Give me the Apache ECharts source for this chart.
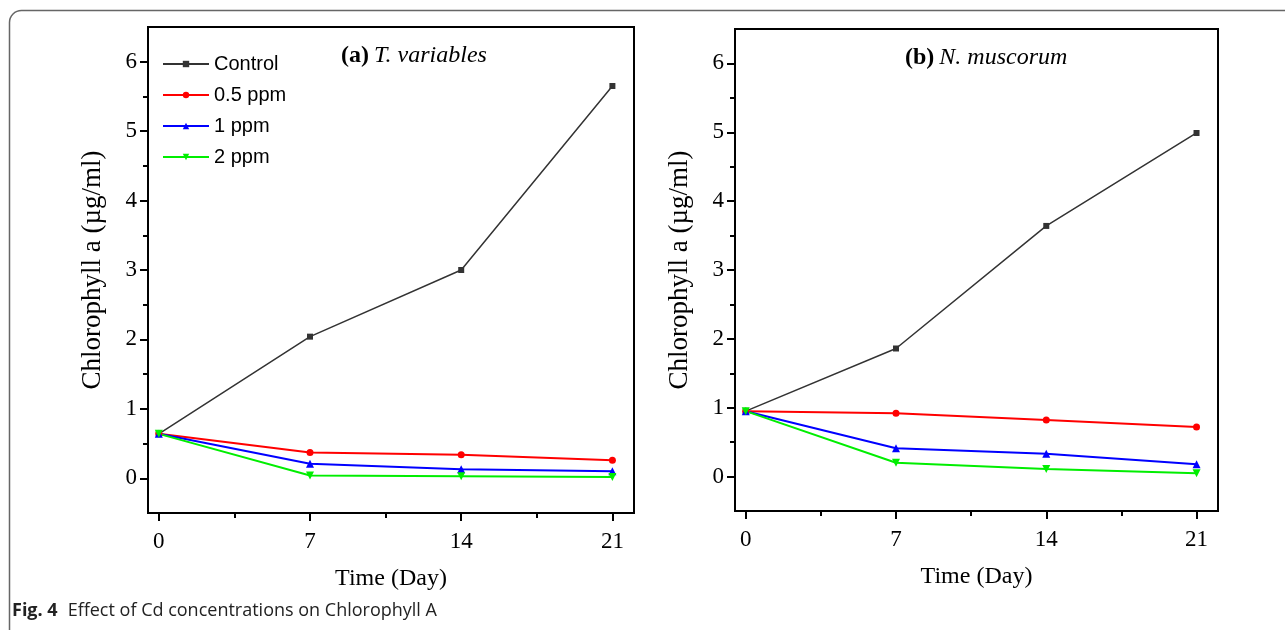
<!DOCTYPE html>
<html>
<head>
<meta charset="utf-8">
<script src="https://cdn.jsdelivr.net/npm/echarts@6/dist/echarts.min.js"></script>
<style>
html,body{margin:0;padding:0;background:#fff;}
#c{width:1285px;height:630px;}
</style>
</head>
<body>
<div id="c"></div>
<script>
// ---- data ----
var days = [0, 7, 14, 21];
var seriesNames = ['Control', '0.5 ppm', '1 ppm', '2 ppm'];
// Panel (a) T. variables
var aControl = [0.64, 2.04, 3.00, 5.65];
var aPpm05 = [0.64, 0.37, 0.34, 0.26];
var aPpm1 = [0.64, 0.21, 0.13, 0.10];
var aPpm2 = [0.64, 0.04, 0.03, 0.02];
// Panel (b) N. muscorum
var bControl = [0.95, 1.86, 3.64, 4.99];
var bPpm05 = [0.95, 0.92, 0.82, 0.72];
var bPpm1 = [0.95, 0.41, 0.33, 0.18];
var bPpm2 = [0.95, 0.20, 0.11, 0.05];
var xMajor = [0, 7, 14, 21];
var xMinor = [3.5, 10.5, 17.5];
var yMajor = [0, 1, 2, 3, 4, 5, 6];
var yMinor = [0.5, 1.5, 2.5, 3.5, 4.5, 5.5];

var colors = ['#333333', '#ff0000', '#0000ff', '#00ee00'];
var symbols = ['rect', 'circle', 'triangle', 'triangle'];
var rot = [0, 0, 0, 180];
var sizes = [6, 7, 8, 8];

function pairs(vals){ return days.map(function(d,i){ return [d, vals[i]]; }); }

var serif = 'Liberation Serif';

function xAxes(gi){
  return [
    {type:'value', gridIndex:gi, position:'bottom', min:-0.5, max:22,
     axisLine:{show:true, onZero:false, lineStyle:{color:'#000', width:2}},
     axisTick:{show:true, inside:false, length:8, customValues:xMajor, lineStyle:{color:'#000', width:2}},
     axisLabel:{show:true, customValues:xMajor, margin:17, color:'#000', fontFamily:serif, fontSize:23},
     splitLine:{show:false},
     name:'Time (Day)', nameLocation:'middle', nameGap:54,
     nameTextStyle:{fontFamily:serif, fontSize:24, color:'#000'}},
    {type:'value', gridIndex:gi, position:'bottom', min:-0.5, max:22,
     axisLine:{show:false, onZero:false},
     axisTick:{show:true, length:5, customValues:xMinor, lineStyle:{color:'#000', width:2}},
     axisLabel:{show:false}, splitLine:{show:false}}
  ];
}
function yAxes(gi){
  return [
    {type:'value', gridIndex:gi, position:'left', min:-0.5, max:6.5,
     axisLine:{show:true, onZero:false, lineStyle:{color:'#000', width:2}},
     axisTick:{show:true, length:8, customValues:yMajor, lineStyle:{color:'#000', width:2}},
     axisLabel:{show:true, customValues:yMajor, margin:11, color:'#000', fontFamily:serif, fontSize:23},
     splitLine:{show:false},
     name:'Chlorophyll a (µg/ml)', nameLocation:'middle', nameGap:42,
     nameTextStyle:{fontFamily:serif, fontSize:27, color:'#000'}},
    {type:'value', gridIndex:gi, position:'left', min:-0.5, max:6.5,
     axisLine:{show:false, onZero:false},
     axisTick:{show:true, length:5, customValues:yMinor, lineStyle:{color:'#000', width:2}},
     axisLabel:{show:false}, splitLine:{show:false}}
  ];
}

function mk(vals, k, gi){
  return {
    type:'line', name: seriesNames[k], xAxisIndex: gi*2, yAxisIndex: gi*2,
    data: pairs(vals), symbol: symbols[k], symbolRotate: rot[k], symbolSize: sizes[k],
    showSymbol:true, animation:false,
    lineStyle:{color:colors[k], width: k===0 ? 1.5 : 2},
    itemStyle:{color:colors[k]}
  };
}

var richTitle = {
  b:{fontFamily:serif, fontWeight:'bold', fontSize:24, color:'#000'},
  i:{fontFamily:serif, fontStyle:'italic', fontWeight:'normal', fontSize:24, color:'#000'}
};

var option = {
  animation:false,
  backgroundColor:'#fff',
  grid:[
    {left:148, top:27, width:486, height:486, show:true, borderColor:'#000', borderWidth:2, backgroundColor:'transparent'},
    {left:735, top:29, width:483, height:482, show:true, borderColor:'#000', borderWidth:2, backgroundColor:'transparent'}
  ],
  xAxis: xAxes(0).concat(xAxes(1)),
  yAxis: yAxes(0).concat(yAxes(1)),
  legend:{
    orient:'vertical', left:157, top:49, itemWidth:46, itemHeight:8, itemGap:11,
    data: seriesNames,
    textStyle:{fontFamily:'Liberation Sans', fontSize:20, color:'#000'}
  },
  title:[
    {text:'{b|(a)} {i|T. variables}', left:336, top:39,
     textStyle:{fontWeight:'normal', rich:richTitle}},
    {text:'{b|(b)} {i|N. muscorum}', left:900, top:41,
     textStyle:{fontWeight:'normal', rich:richTitle}},
    {text:'{b|Fig. 4}  {n|Effect of Cd concentrations on Chlorophyll A}', left:7, top:597,
     textStyle:{fontWeight:'normal', rich:{b:{fontFamily:'Open Sans', fontWeight:'bold', fontSize:18, color:'#222'}, n:{fontFamily:'Open Sans', fontWeight:'normal', fontSize:18, color:'#222'}}}}
  ],
  graphic:[
    {type:'rect', silent:true, z:-1, shape:{x:9.5, y:10.5, width:1320, height:640, r:12},
     style:{fill:'none', stroke:'#666', lineWidth:1.5}}
  ],
  series:[
    mk(aControl,0,0), mk(aPpm05,1,0), mk(aPpm1,2,0), mk(aPpm2,3,0),
    mk(bControl,0,1), mk(bPpm05,1,1), mk(bPpm1,2,1), mk(bPpm2,3,1)
  ]
};
var chart = echarts.init(document.getElementById('c'), null, {renderer:'canvas'});
chart.setOption(option);
</script>
</body>
</html>
